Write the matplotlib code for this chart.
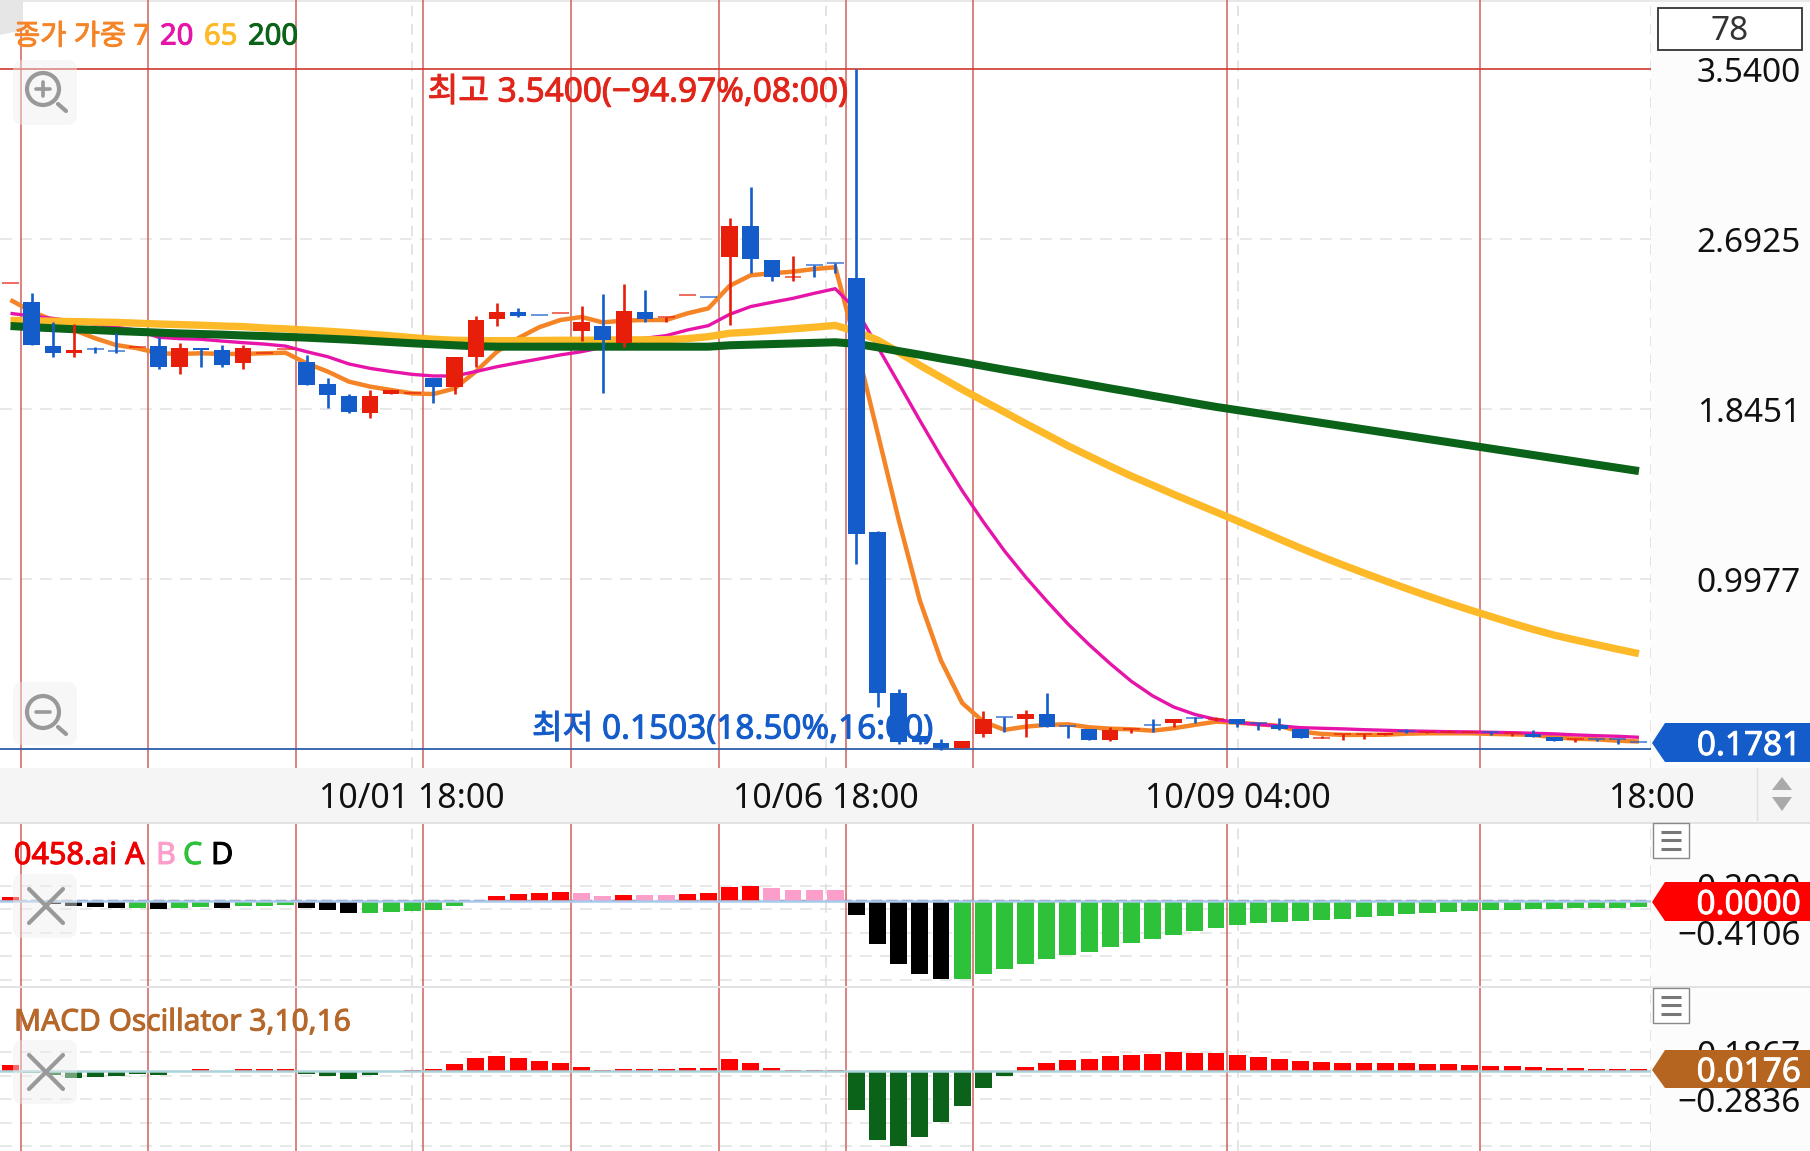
import matplotlib
matplotlib.use("Agg")
import matplotlib.pyplot as plt
import matplotlib.patheffects as pe
from matplotlib.patches import Rectangle, Polygon, FancyBboxPatch, Circle

FONT = ['Noto Sans', 'Noto Sans CJK KR', 'DejaVu Sans']
plt.rcParams['font.family'] = FONT

# ---------- data ----------
opens = [2.477,2.381,2.163,2.128,2.150,2.140,2.156,2.161,2.055,2.152,2.142,2.075,2.125,2.148,2.083,1.972,1.912,1.826,1.922,1.925,
         2.002,1.955,2.108,2.298,2.333,2.317,2.328,2.235,2.261,2.175,2.331,2.306,2.416,2.408,2.604,2.761,2.590,2.505,2.565,2.575,
         2.502,1.232,0.432,0.217,0.184,0.156,0.226,0.312,0.301,0.327,0.270,0.251,0.198,0.248,0.272,0.281,0.310,0.302,0.301,0.282,
         0.273,0.251,0.209,0.226,0.226,0.221,0.244,0.238,0.238,0.238,0.239,0.230,0.226,0.214,0.203,0.203,0.202,0.190]
highs = [2.477,2.424,2.283,2.271,2.155,2.225,2.156,2.205,2.178,2.152,2.165,2.168,2.125,2.148,2.115,2.002,1.922,1.942,1.942,1.925,
         2.002,2.105,2.311,2.374,2.351,2.317,2.328,2.361,2.421,2.471,2.441,2.308,2.416,2.408,2.801,2.953,2.590,2.610,2.565,2.575,
         3.540,1.240,0.453,0.217,0.205,0.192,0.342,0.312,0.347,0.431,0.270,0.251,0.261,0.250,0.301,0.301,0.310,0.314,0.301,0.282,
         0.306,0.251,0.218,0.226,0.226,0.231,0.251,0.238,0.248,0.238,0.239,0.230,0.248,0.214,0.203,0.203,0.202,0.190]
lows = [2.477,2.165,2.105,2.105,2.125,2.125,2.156,2.045,2.022,2.055,2.055,2.045,2.125,2.148,1.965,1.854,1.826,1.804,1.922,1.925,
        1.876,1.922,2.058,2.261,2.304,2.316,2.328,2.185,1.925,2.155,2.283,2.281,2.416,2.407,2.266,2.527,2.484,2.487,2.504,2.524,
        1.075,0.362,0.180,0.180,0.150,0.156,0.211,0.239,0.211,0.264,0.206,0.198,0.194,0.234,0.239,0.264,0.284,0.290,0.261,0.248,
        0.248,0.206,0.209,0.198,0.203,0.221,0.231,0.231,0.238,0.238,0.223,0.218,0.211,0.191,0.188,0.193,0.176,0.189]
closes = [2.477,2.165,2.125,2.142,2.147,2.137,2.156,2.055,2.152,2.142,2.065,2.152,2.125,2.148,1.965,1.916,1.832,1.912,1.942,1.925,
          1.955,2.105,2.291,2.333,2.311,2.316,2.328,2.281,2.191,2.334,2.298,2.308,2.416,2.407,2.761,2.594,2.504,2.507,2.563,2.573,
          1.224,0.432,0.187,0.187,0.156,0.192,0.301,0.311,0.327,0.264,0.268,0.198,0.248,0.250,0.271,0.301,0.309,0.304,0.278,0.281,
          0.253,0.206,0.209,0.226,0.226,0.231,0.243,0.238,0.238,0.238,0.238,0.230,0.211,0.191,0.203,0.202,0.201,0.189]

ma7 = [2.391,2.333,2.291,2.241,2.200,2.166,2.150,2.125,2.122,2.125,2.122,2.122,2.125,2.128,2.075,2.034,1.984,1.959,1.942,1.925,
       1.922,1.950,2.034,2.133,2.200,2.255,2.291,2.306,2.279,2.288,2.291,2.291,2.324,2.349,2.461,2.514,2.524,2.532,2.545,2.554,
       2.159,1.728,1.294,0.892,0.593,0.382,0.289,0.248,0.264,0.273,0.276,0.261,0.254,0.251,0.244,0.256,0.273,0.289,0.284,0.276,
       0.268,0.239,0.228,0.223,0.223,0.224,0.229,0.231,0.231,0.231,0.228,0.226,0.223,0.211,0.204,0.201,0.194,0.190]
ma20 = [2.324,2.311,2.299,2.285,2.270,2.255,2.240,2.205,2.198,2.195,2.186,2.178,2.171,2.161,2.133,2.108,2.072,2.050,2.034,2.020,
        2.012,2.012,2.034,2.058,2.078,2.097,2.117,2.133,2.155,2.180,2.200,2.213,2.241,2.263,2.319,2.358,2.379,2.399,2.424,2.447,
        2.341,2.158,1.975,1.790,1.610,1.440,1.285,1.140,1.010,0.890,0.776,0.673,0.578,0.490,0.418,0.362,0.325,0.300,0.285,0.275,
        0.268,0.259,0.256,0.253,0.249,0.246,0.243,0.241,0.239,0.238,0.236,0.234,0.231,0.228,0.223,0.219,0.216,0.211]
ma65 = [2.289,2.287,2.285,2.283,2.281,2.279,2.275,2.271,2.268,2.265,2.261,2.258,2.251,2.247,2.241,2.235,2.228,2.220,2.212,2.203,
        2.195,2.190,2.188,2.188,2.188,2.189,2.190,2.190,2.191,2.192,2.192,2.193,2.198,2.208,2.225,2.231,2.239,2.247,2.255,2.264,
        2.233,2.191,2.130,2.065,2.005,1.945,1.888,1.832,1.775,1.720,1.664,1.613,1.562,1.513,1.468,1.422,1.378,1.334,1.290,1.245,
        1.199,1.154,1.111,1.070,1.030,0.991,0.953,0.916,0.880,0.846,0.813,0.780,0.749,0.720,0.696,0.673,0.650,0.628]
ma200 = [2.261,2.255,2.250,2.245,2.241,2.236,2.232,2.228,2.224,2.221,2.218,2.214,2.211,2.207,2.203,2.198,2.193,2.187,2.181,2.175,
         2.170,2.165,2.160,2.158,2.158,2.158,2.158,2.158,2.158,2.158,2.158,2.158,2.158,2.158,2.165,2.168,2.171,2.174,2.177,2.180,
         2.172,2.155,2.136,2.118,2.099,2.081,2.062,2.043,2.025,2.006,1.988,1.969,1.950,1.932,1.913,1.895,1.876,1.858,1.842,1.826,
         1.810,1.794,1.778,1.762,1.746,1.730,1.714,1.698,1.682,1.666,1.650,1.634,1.618,1.602,1.586,1.570,1.554,1.538]

ind_values = [0.056,-0.004,-0.030,-0.065,-0.078,-0.086,-0.082,-0.099,-0.086,-0.073,-0.086,-0.065,-0.065,-0.052,-0.086,-0.112,-0.147,-0.147,-0.134,-0.125,
              -0.108,-0.060,-0.004,0.069,0.095,0.108,0.117,0.108,0.073,0.086,0.086,0.078,0.099,0.108,0.190,0.199,0.173,0.151,0.147,0.143,
              -0.181,-0.553,-0.816,-0.955,-1.015,-1.015,-0.950,-0.886,-0.812,-0.756,-0.704,-0.657,-0.600,-0.549,-0.492,-0.436,-0.389,-0.346,-0.315,-0.289,
              -0.268,-0.259,-0.242,-0.225,-0.203,-0.186,-0.168,-0.147,-0.134,-0.125,-0.112,-0.108,-0.099,-0.095,-0.091,-0.086,-0.082,-0.078]
ind_class = list("AD" "DDDDCDCCDCCCDDDCCCC" "CDAAAABBABBAAAABBBB" "DDDDDCCCCCCCCCCCCCCCCCCCCCCCCCCCCCCCCC")
macd_values = [0.053,-0.027,-0.043,-0.070,-0.063,-0.053,-0.037,-0.047,0.002,0.017,-0.003,0.013,0.017,0.013,-0.033,-0.057,-0.080,-0.047,-0.007,0.007,
               0.017,0.063,0.127,0.143,0.123,0.097,0.073,0.037,0.003,0.017,0.013,0.017,0.023,0.023,0.113,0.077,0.023,0.003,0.003,0.003,
               -0.393,-0.696,-0.753,-0.659,-0.516,-0.350,-0.176,-0.057,0.033,0.073,0.107,0.117,0.143,0.157,0.170,0.183,0.180,0.173,0.153,0.137,
               0.117,0.097,0.083,0.080,0.077,0.080,0.073,0.067,0.063,0.057,0.050,0.047,0.037,0.027,0.023,0.020,0.017,0.013]

price_ticks = [3.5400, 2.6925, 1.8451, 0.9977]
ind_ticks = [0.2020, -0.4106]
ind_grid = [0.2020, -0.1043, -0.4106, -0.7169, -1.0232]
macd_ticks = [0.1867, -0.2836]
macd_grid = [0.1867, -0.0484, -0.2836, -0.5187, -0.7538]
period_lines = [0.5, 6.5, 13.5, 19.5, 26.5, 33.5, 39.5, 45.5, 57.5, 69.5]
time_ticks = [18.98, 38.56, 58.04, 77.57]
time_labels = ['10/01 18:00', '10/06 18:00', '10/09 04:00', '18:00']
high_price, low_price = 3.5400, 0.1503

# ---------- layout helpers ----------
W, H = 1810, 1151
fig = plt.figure(figsize=(W/100, H/100), dpi=100, facecolor='white')
def axes_px(x0, y0, x1, y1):
    a = fig.add_axes([x0/W, 1-y1/H, (x1-x0)/W, (y1-y0)/H], zorder=1)
    a.patch.set_alpha(0)
    for s in a.spines.values():
        s.set_visible(False)
    return a
def fig_rect(x0, y0, x1, y1, color):
    fig.patches.append(Rectangle((x0/W, 1-y1/H), (x1-x0)/W, (y1-y0)/H, transform=fig.transFigure, fc=color, ec='none', zorder=0))

fig_rect(1651, 0, W, H, '#fcfcfc')
fig_rect(0, 768, W, 822, '#f5f5f5')
fig_rect(0, 822, W, 824, '#e2e2e2')
fig_rect(0, 986, W, 988, '#e2e2e2')
fig_rect(0, 0, W, 1.5, '#e8e8e8')

XLIM = (-0.496, 77.57)
ax = axes_px(0, 0, 1651, 768)
ax2 = axes_px(0, 824, 1651, 986)
ax3 = axes_px(0, 988, 1651, 1151)
ax.set_ylim(0.058, 3.886)
ax2.set_ylim(-1.105, 1.007)
ax3.set_ylim(-0.802, 0.826)
idx = list(range(len(closes)))

GRID, VRED = '#e4e4e4', '#d0605c'
for a, grid, ticks in [(ax, price_ticks[1:], price_ticks), (ax2, ind_grid, ind_ticks), (ax3, macd_grid, macd_ticks)]:
    a.set_xlim(*XLIM)
    for g in grid:
        a.axhline(g, color=GRID, lw=1.2, dashes=(7, 5), zorder=1)
    for t in time_ticks:
        a.axvline(t, color='#dddddd', lw=1.1, dashes=(7, 5), zorder=1)
    for p in period_lines:
        a.axvline(p, color=VRED, lw=1.1, zorder=1.5)
    a.yaxis.tick_right()
    a.set_yticks(ticks)
    a.set_yticklabels([f'{t:.4f}'.replace('-', '\u2212') for t in ticks], fontsize=24, color='#111111', ha='right')
    a.tick_params(axis='y', length=0, pad=108)
    a.set_xticks([])

ax.set_xticks(time_ticks)
ax.set_xticklabels(time_labels, fontsize=24.4, color='#111111')
ax.tick_params(axis='x', length=0, pad=10)

# ---------- candles ----------
BLUE, RED = '#155ccb', '#e61e0a'
ax.plot(idx, ma7, color='#f58426', lw=3.2, zorder=3, solid_joinstyle='round', solid_capstyle='butt')
ax.plot(idx, ma20, color='#e614a8', lw=2.4, zorder=3.1, solid_capstyle='butt')
ax.plot(idx, ma65, color='#fdb927', lw=5.3, zorder=3.2, solid_capstyle='butt')
ax.plot(idx, ma200, color='#0a6318', lw=5.8, zorder=3.3, solid_capstyle='butt')
for i, o, h, l, c in zip(idx, opens, highs, lows, closes):
    col = RED if c >= o else BLUE
    ax.vlines(i, l, h, color=col, lw=1.9, zorder=4)
    if abs(c-o) < 0.004:
        ax.hlines(c, i-0.4, i+0.4, color=col, lw=1.3, alpha=0.7, zorder=4)
    else:
        ax.bar(i, abs(c-o), bottom=min(o, c), width=0.78, color=col, zorder=4.1)
ax.axhline(high_price, color='#cf3a30', lw=1.2, zorder=2)
ax.axhline(low_price, color='#2a5ea8', lw=1.3, zorder=2)

# ---------- indicators ----------
ind_colors = {'A': '#ff0000', 'B': '#fb9fca', 'C': '#2dc23a', 'D': '#000000'}
ax2.axhline(0.012, color='#7a6f9a', lw=1.0, dashes=(8, 3), zorder=2)
ax2.bar(idx, ind_values, width=0.8, color=[ind_colors[k] for k in ind_class], zorder=3)
ax2.axhline(0, color='#a9c9ea', lw=1.8, zorder=4)
macd_colors = ['#ff0000' if v > 0 else '#0a6318' for v in macd_values]
ax3.bar(idx, macd_values, width=0.8, color=macd_colors, zorder=3)
ax3.axhline(0, color='#a9d2da', lw=1.8, zorder=4)

# ---------- overlay in pixel coordinates: labels and controls ----------
ov = fig.add_axes([0, 0, 1, 1], zorder=5)
ov.set_xlim(0, W); ov.set_ylim(H, 0); ov.axis('off')
def txt(x, y, s, color, size=21, ha='left', bold=0.7, **kw):
    t = ov.text(x, y+3, s, color=color, fontsize=size, ha=ha, va='center', family=FONT, **kw)
    if bold:
        t.set_path_effects([pe.withStroke(linewidth=bold, foreground=color)])
    return t

ov.add_patch(Polygon([(0, 0), (23, 0), (23, 30), (0, 35)], fc='#e6e6e6', ec='none', zorder=1))
txt(14, 34, '종가 가중 7', '#f58426', size=20.5)
txt(160, 34, '20', '#e614a8')
txt(204, 34, '65', '#fdb927')
txt(248, 34, '200', '#0a6318')
txt(848, 90, '최고 3.5400(\u221294.97%,08:00)', '#e0261b', size=24, ha='right')
txt(532, 727, '최저 0.1503(18.50%,16:00)', '#155ccb', size=24)

txt(14, 853, '0458.ai A', '#ee0000', size=22)
txt(156, 853, 'B', '#fb9fca', size=22)
txt(183, 853, 'C', '#2dc23a', size=22)
txt(211, 853, 'D', '#000000', size=22)
txt(14, 1020, 'MACD Oscillator 3,10,16', '#b5682a', size=21.5)

ov.add_patch(Rectangle((1657.5, 7.5), 144, 42, fc='white', ec='#333333', lw=1.3))
txt(1730, 28, '78', '#333333', size=24, ha='center', bold=0)

def tag(y0, y1, ym, color, s):
    ov.add_patch(Polygon([(1652, ym), (1665, y0), (W, y0), (W, y1), (1665, y1)], fc=color, ec='none', zorder=3))
    t = ov.text(1801, (y0+y1)/2+4, s, color='white', fontsize=24, ha='right', va='center', family=FONT, zorder=4)
    t.set_path_effects([pe.withStroke(linewidth=0.6, foreground='white')])
tag(723, 762, 743, '#155ccb', '0.1781')
tag(882, 921, 902, '#ff0000', '0.0000')
tag(1050, 1088, 1070, '#b5651f', '0.0176')

# scale arrows
ov.plot([1757, 1757], [768, 820], color='#e0e0e0', lw=1)
ov.add_patch(Polygon([(1772, 790), (1792, 790), (1782, 777)], fc='#aaaaaa', ec='none'))
ov.add_patch(Polygon([(1772, 797), (1792, 797), (1782, 811)], fc='#aaaaaa', ec='none'))

# menu buttons
for y0 in (823, 988):
    ov.add_patch(Rectangle((1653, y0), 36, 35, fc='white', ec='#888888', lw=1))
    for d in (9, 17, 26):
        ov.plot([1661, 1681], [y0+d, y0+d], color='#777777', lw=2.2, solid_capstyle='butt')

# zoom and delete buttons
def box(y0, y1):
    ov.add_patch(FancyBboxPatch((19, y0+6), 52, y1-y0-12, boxstyle='round,pad=6,rounding_size=10',
                                fc='#eeeeee', ec='none', alpha=0.45, zorder=1))
def lens(cy, plus):
    ov.add_patch(Circle((43, cy), 16, fc='none', ec='#999999', lw=3))
    ov.plot([58, 66], [cy+15, cy+22], color='#999999', lw=3, solid_capstyle='round')
    ov.plot([36, 50], [cy, cy], color='#999999', lw=2.6, solid_capstyle='round')
    if plus:
        ov.plot([43, 43], [cy-7, cy+7], color='#999999', lw=2.6, solid_capstyle='round')
box(60, 125); lens(89, True)
box(682, 745); lens(712, False)
for cy in (906, 1072):
    box(cy-32, cy+32)
    ov.plot([29, 63], [cy-17, cy+17], color='#999999', lw=3, solid_capstyle='round')
    ov.plot([29, 63], [cy+17, cy-17], color='#999999', lw=3, solid_capstyle='round')

fig.savefig('out.png', dpi=100)
